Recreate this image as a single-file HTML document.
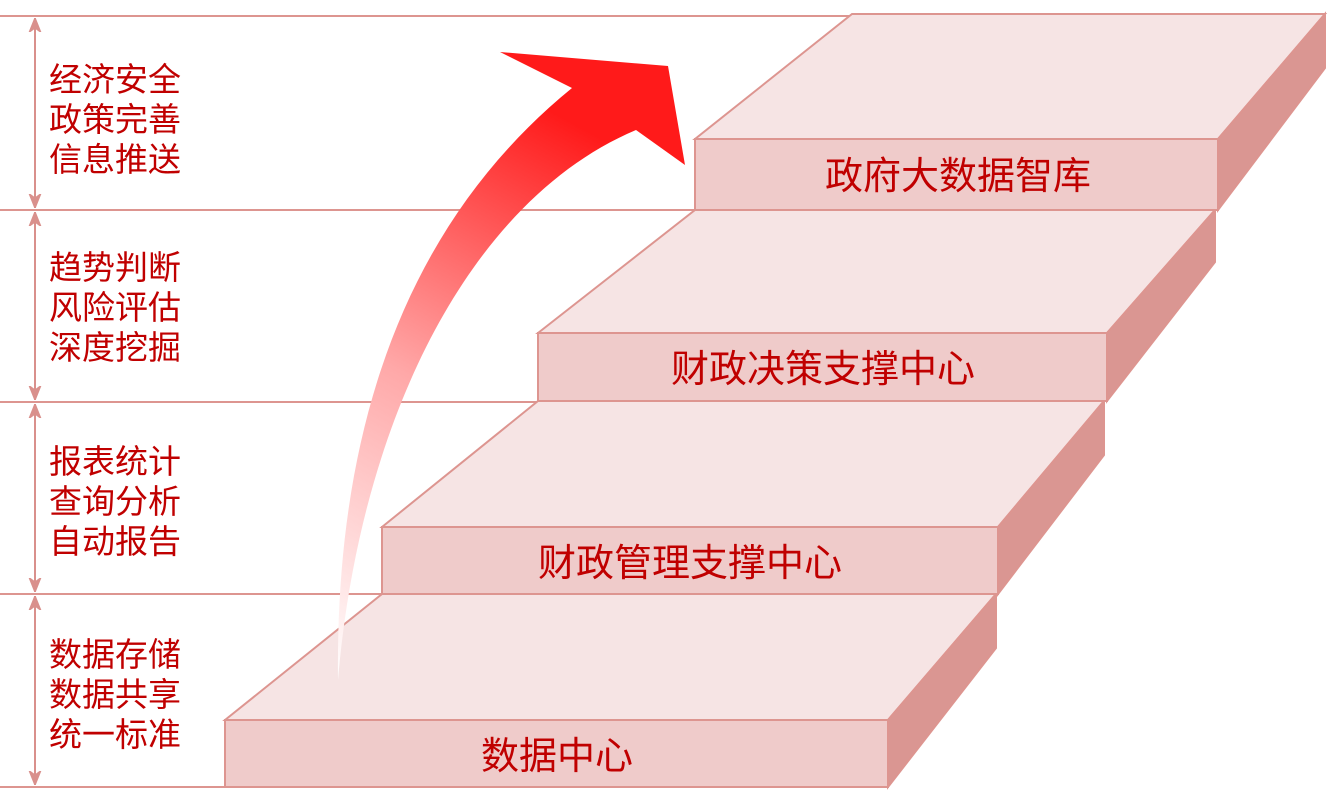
<!DOCTYPE html>
<html><head><meta charset="utf-8"><style>
html,body{margin:0;padding:0;background:#fff;}
svg{display:block;}
text{font-family:"Liberation Sans","Noto Sans CJK SC",sans-serif;fill:#c00000;}
</style></head><body>
<svg width="1329" height="811" viewBox="0 0 1329 811" xmlns="http://www.w3.org/2000/svg">
<defs>
<linearGradient id="g" x1="0" y1="1" x2="0.3" y2="0">
<stop offset="0" stop-color="#fff"/>
<stop offset="0.5" stop-color="#ffa8a8"/>
<stop offset="1" stop-color="#ff1a1a"/>
</linearGradient>
<marker id="a" viewBox="0 0 10 10" refX="10" refY="5" markerWidth="7" markerHeight="7" orient="auto-start-reverse"><path d="M0,1 L10,5 L0,9 L3,5 Z" fill="#d9908c" stroke="#d9908c" stroke-width="1"/></marker>
</defs>
<g stroke="#dd9590" stroke-width="2">
<line x1="0" y1="16" x2="852" y2="16"/>
<line x1="0" y1="210" x2="695" y2="210"/>
<line x1="0" y1="402" x2="538" y2="402"/>
<line x1="0" y1="594" x2="382" y2="594"/>
<line x1="0" y1="787" x2="225" y2="787"/>
</g>
<g stroke="#d9908c" stroke-width="2" marker-start="url(#a)" marker-end="url(#a)">
<line x1="35" y1="18" x2="35" y2="208"/>
<line x1="35" y1="212" x2="35" y2="400"/>
<line x1="35" y1="404" x2="35" y2="592"/>
<line x1="35" y1="596" x2="35" y2="785"/>
</g>
<g font-size="33">
<text x="49" y="91">经济安全</text><text x="49" y="131">政策完善</text><text x="49" y="171">信息推送</text>
<text x="49" y="279">趋势判断</text><text x="49" y="319">风险评估</text><text x="49" y="359">深度挖掘</text>
<text x="49" y="473">报表统计</text><text x="49" y="513">查询分析</text><text x="49" y="553">自动报告</text>
<text x="49" y="666">数据存储</text><text x="49" y="706">数据共享</text><text x="49" y="746">统一标准</text>
</g>
<g stroke="#dd9590" stroke-width="2">
<polygon points="225,720 382,594 996,594 888,720" fill="#f6e4e4"/>
<polygon points="888,720 996,594 996,648 888,787" fill="#da9692"/>
<rect x="225" y="720" width="663" height="67" fill="#efcbca"/>
<polygon points="382,527 538,401 1104,401 998,527" fill="#f6e4e4"/>
<polygon points="998,527 1104,401 1104,455 998,594" fill="#da9692"/>
<rect x="382" y="527" width="616" height="67" fill="#efcbca"/>
<polygon points="538,333 695,210 1215,210 1107,333" fill="#f6e4e4"/>
<polygon points="1107,333 1215,210 1215,262 1107,401" fill="#da9692"/>
<rect x="538" y="333" width="569" height="68" fill="#efcbca"/>
<polygon points="695,139 852,14 1325,14 1218,139" fill="#f6e4e4"/>
<polygon points="1218,139 1325,14 1325,68 1218,210" fill="#da9692"/>
<rect x="695" y="139" width="523" height="71" fill="#efcbca"/>
</g>
<g font-size="38" text-anchor="middle">
<text x="958" y="189">政府大数据智库</text>
<text x="823" y="382">财政决策支撑中心</text>
<text x="690" y="576">财政管理支撑中心</text>
<text x="557" y="769">数据中心</text>
</g>
<path d="M338,680 C335,420 410,220 572,88 L500,52 L668,66 L685,165 L636,130 C470,200 360,420 338,680 Z" fill="url(#g)"/>
</svg>
</body></html>
